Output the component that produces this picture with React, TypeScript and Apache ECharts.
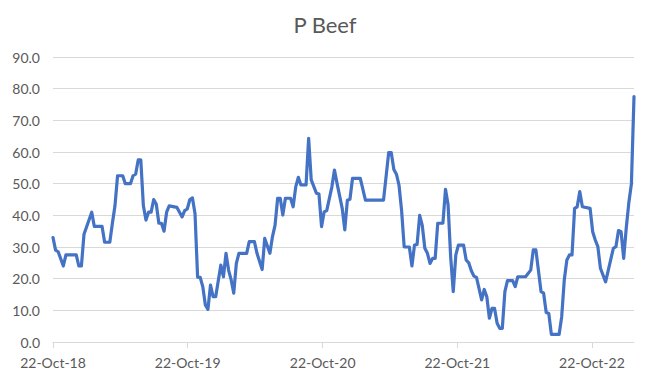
import React, { useEffect, useRef } from "react";
import * as echarts from "echarts";

const title = "P Beef";

const dates: string[] = [
  "2018-10-22", "2018-10-29", "2018-11-05", "2018-11-19", "2018-11-26", "2018-12-24", "2018-12-31",
  "2019-01-07", "2019-01-14", "2019-02-04", "2019-02-11", "2019-03-04", "2019-03-11", "2019-03-25",
  "2019-04-01", "2019-04-08", "2019-04-15", "2019-04-29", "2019-05-06", "2019-05-20", "2019-05-27",
  "2019-06-03", "2019-06-10", "2019-06-17", "2019-06-24", "2019-07-01", "2019-07-08", "2019-07-15",
  "2019-07-22", "2019-07-29", "2019-08-05", "2019-08-12", "2019-08-19", "2019-08-26", "2019-09-02",
  "2019-09-23", "2019-10-07", "2019-10-14", "2019-10-21", "2019-10-28", "2019-11-04", "2019-11-11",
  "2019-11-18", "2019-11-25", "2019-12-02", "2019-12-09", "2019-12-16", "2019-12-23", "2019-12-30",
  "2020-01-06", "2020-01-20", "2020-01-27", "2020-02-03", "2020-02-10", "2020-02-17", "2020-02-24",
  "2020-03-02", "2020-03-09", "2020-03-30", "2020-04-06", "2020-04-20", "2020-04-27", "2020-05-11",
  "2020-05-18", "2020-06-01", "2020-06-08", "2020-06-15", "2020-06-22", "2020-06-29", "2020-07-06",
  "2020-07-13", "2020-07-27", "2020-08-03", "2020-08-10", "2020-08-17", "2020-08-24", "2020-09-07",
  "2020-09-14", "2020-09-21", "2020-10-05", "2020-10-12", "2020-10-19", "2020-10-26", "2020-11-02",
  "2020-11-16", "2020-11-23", "2020-11-30", "2020-12-14", "2020-12-21", "2020-12-28", "2021-01-04",
  "2021-01-11", "2021-02-01", "2021-02-15", "2021-04-05", "2021-04-19", "2021-04-26", "2021-05-03",
  "2021-05-10", "2021-05-17", "2021-05-24", "2021-05-31", "2021-06-14", "2021-06-21", "2021-06-28",
  "2021-07-05", "2021-07-12", "2021-07-19", "2021-07-26", "2021-08-02", "2021-08-09", "2021-08-16",
  "2021-08-23", "2021-08-30", "2021-09-13", "2021-09-20", "2021-09-27", "2021-10-04", "2021-10-11",
  "2021-10-18", "2021-10-25", "2021-11-08", "2021-11-15", "2021-11-22", "2021-11-29", "2021-12-06",
  "2021-12-13", "2021-12-27", "2022-01-03", "2022-01-10", "2022-01-17", "2022-01-24", "2022-01-31",
  "2022-02-07", "2022-02-14", "2022-02-21", "2022-02-28", "2022-03-07", "2022-03-21", "2022-03-28",
  "2022-04-04", "2022-04-25", "2022-05-09", "2022-05-16", "2022-05-23", "2022-06-06", "2022-06-13",
  "2022-06-20", "2022-06-27", "2022-07-04", "2022-07-25", "2022-08-01", "2022-08-08", "2022-08-15",
  "2022-08-22", "2022-08-29", "2022-09-05", "2022-09-12", "2022-09-19", "2022-09-26", "2022-10-17",
  "2022-10-24", "2022-10-31", "2022-11-07", "2022-11-14", "2022-11-28", "2022-12-19", "2022-12-26",
  "2023-01-02", "2023-01-09", "2023-01-16", "2023-01-23", "2023-01-30", "2023-02-06", "2023-02-13",
];

const values: number[] = [
  33.0, 29.0, 28.5, 24.0, 27.5, 27.5, 24.0,
  24.0, 34.0, 41.0, 36.5, 36.5, 31.5, 31.5,
  37.5, 43.0, 52.5, 52.5, 50.0, 50.0, 52.5,
  53.0, 57.5, 57.5, 43.0, 38.5, 41.0, 41.0,
  45.0, 43.5, 37.5, 37.5, 35.0, 41.0, 43.0,
  42.5, 39.5, 41.5, 42.0, 45.0, 45.5, 40.5,
  20.5, 20.4, 17.5, 11.7, 10.3, 18.0, 14.3,
  14.3, 24.3, 20.6, 28.0, 22.7, 19.6, 15.4,
  24.8, 28.0, 28.0, 31.7, 31.7, 28.0, 22.9,
  32.7, 28.0, 33.3, 36.9, 45.4, 45.4, 40.1,
  45.4, 45.4, 42.7, 49.0, 52.0, 49.6, 49.6,
  64.3, 51.2, 47.0, 46.7, 36.4, 41.1, 41.5,
  49.0, 54.3, 50.1, 42.2, 35.4, 44.8, 45.1,
  51.7, 51.7, 44.8, 44.8, 59.8, 59.8, 54.5,
  53.0, 49.5, 41.5, 30.0, 30.0, 24.0, 30.6,
  30.8, 40.0, 36.8, 29.6, 28.0, 24.8, 26.4,
  26.4, 37.5, 37.5, 48.2, 43.3, 26.9, 15.9,
  27.5, 30.6, 30.6, 25.9, 25.0, 22.5, 20.8,
  20.4, 13.3, 16.6, 14.3, 7.5, 10.6, 10.6,
  5.9, 4.3, 4.3, 15.9, 19.4, 19.4, 17.5,
  20.6, 20.6, 22.7, 29.1, 29.1, 15.9, 15.4,
  9.3, 9.0, 2.4, 2.4, 8.0, 19.6, 25.9,
  27.5, 27.5, 42.2, 42.7, 47.5, 42.7, 42.2,
  34.8, 32.2, 30.1, 23.3, 19.0, 29.6, 30.1,
  35.2, 34.8, 26.4, 36.0, 44.0, 50.0, 77.5,
];

const xTickDates: string[] = ["2018-10-22", "2019-10-22", "2020-10-22", "2021-10-22", "2022-10-22"];
const yMin = 0;
const yMax = 90;
const yStep = 10;

const months = ["Jan", "Feb", "Mar", "Apr", "May", "Jun", "Jul", "Aug", "Sep", "Oct", "Nov", "Dec"];
const toTime = (s: string) => {
  const [y, m, d] = s.split("-").map(Number);
  return Date.UTC(y, m - 1, d);
};
const fmtDate = (v: number) => {
  const d = new Date(Math.round(v));
  return `${d.getUTCDate()}-${months[d.getUTCMonth()]}-${String(d.getUTCFullYear()).slice(2)}`;
};

export default function App() {
  const ref = useRef<HTMLDivElement>(null);
  useEffect(() => {
    if (!ref.current) return;
    const chart = echarts.init(ref.current, undefined, { renderer: "svg" });
    const font = "Lato, 'Open Sans', sans-serif";
    const ticks = xTickDates.map(toTime);
    chart.setOption({
      animation: false,
      textStyle: { fontFamily: font },
      title: {
        text: title,
        left: "center",
        top: 8,
        textStyle: { fontSize: 22, fontWeight: "normal", color: "#595959", fontFamily: font },
      },
      grid: { left: 53, right: 16, top: 57, bottom: 34, containLabel: false },
      xAxis: {
        type: "value",
        min: toTime(dates[0]),
        max: toTime(dates[dates.length - 1]),
        scale: true,
        axisLine: { show: true, lineStyle: { color: "#D9D9D9", width: 1 } },
        axisTick: { show: true, customValues: ticks, length: 6, lineStyle: { color: "#D9D9D9" } },
        splitLine: { show: false },
        axisLabel: {
          customValues: ticks,
          color: "#595959",
          fontSize: 14,
          margin: 13,
          fontFamily: font,
          formatter: (v: number) => fmtDate(v),
        },
      },
      yAxis: {
        type: "value",
        min: yMin,
        max: yMax,
        interval: yStep,
        axisLine: { show: false },
        axisTick: { show: false },
        splitLine: { show: true, lineStyle: { color: "#D9D9D9", width: 1 } },
        axisLabel: {
          color: "#595959",
          fontSize: 14,
          margin: 13,
          fontFamily: font,
          formatter: (v: number) => v.toFixed(1),
        },
      },
      series: [
        {
          type: "line",
          data: dates.map((d, i) => [toTime(d), values[i]]),
          showSymbol: false,
          symbol: "none",
          lineStyle: { color: "#4472C4", width: 3.2, join: "round", cap: "round" },
          itemStyle: { color: "#4472C4" },
        },
      ],
    });
    return () => chart.dispose();
  }, []);
  return (
    <div
      ref={ref}
      style={{ position: "absolute", left: 0, top: 0, width: 650, height: 376, background: "#fff" }}
    />
  );
}
